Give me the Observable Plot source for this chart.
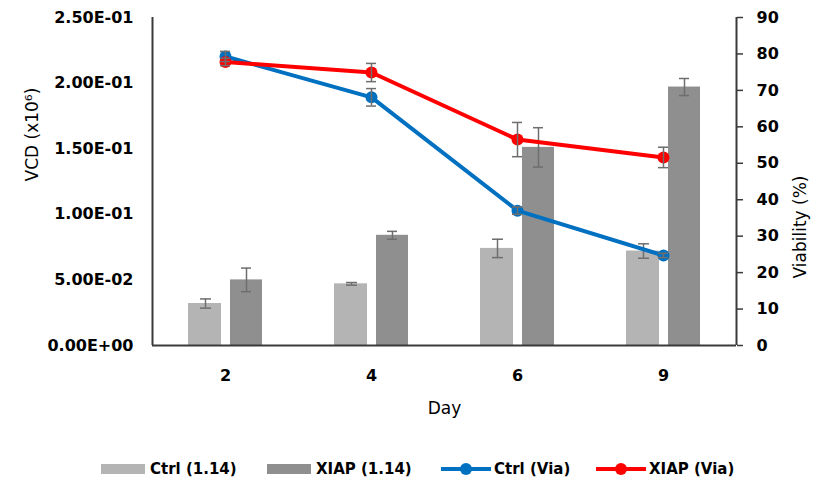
<!DOCTYPE html>
<html>
<head>
<meta charset="utf-8">
<script src="https://cdn.jsdelivr.net/npm/d3@7"></script>
<script src="https://cdn.jsdelivr.net/npm/@observablehq/plot@0.6"></script>
<style>
  html, body { margin: 0; padding: 0; background: #fff; }
  #chart { width: 820px; }
  .legend { position: relative; height: 36px; font-family: "DejaVu Sans", sans-serif; font-weight: bold; font-size: 15px; color: #000; }
  .legend .item { position: absolute; top: 10px; display: flex; align-items: center; height: 18px; }
  .legend .sw { width: 44px; height: 10px; margin-right: 5px; }
  .legend .ln { position: relative; width: 50px; height: 4px; margin-right: 3px; }
  .legend .ln i { position: absolute; left: 19px; top: -4px; width: 12px; height: 12px; border-radius: 50%; }
</style>
</head>
<body>
<div id="chart"></div>
<script>
const days = ["2", "4", "6", "9"];
const ctrlVCD = [0.032, 0.047, 0.074, 0.072];
const ctrlVCDErr = [0.0035, 0.001, 0.007, 0.0055];
const xiapVCD = [0.050, 0.084, 0.151, 0.197];
const xiapVCDErr = [0.009, 0.003, 0.015, 0.0065];
const ctrlVia = [79.3, 68.1, 37.0, 24.7];
const ctrlViaErr = [1.4, 2.4, 1.0, 0.6];
const xiapVia = [77.8, 74.9, 56.5, 51.6];
const xiapViaErr = [1.0, 2.5, 4.7, 2.8];
const vcdTicks = [0, 0.05, 0.10, 0.15, 0.20, 0.25];
const viaTicks = [0, 10, 20, 30, 40, 50, 60, 70, 80, 90];
const seriesNames = ["Ctrl (1.14)", "XIAP (1.14)", "Ctrl (Via)", "XIAP (Via)"];
const seriesColors = ["#b4b4b4", "#8f8f8f", "#0070c0", "#ff0000"];

const VIA_MAX = 90, VCD_MAX = 0.25;
const viaToY = v => v * VCD_MAX / VIA_MAX;

const rows = (vals, errs) => days.map((d, i) => ({day: d, v: vals[i], e: errs[i]}));
const ctrlBars = rows(ctrlVCD, ctrlVCDErr);
const xiapBars = rows(xiapVCD, xiapVCDErr);
const ctrlLine = rows(ctrlVia, ctrlViaErr).map(r => ({...r, y: viaToY(r.v), lo: viaToY(r.v - r.e), hi: viaToY(r.v + r.e)}));
const xiapLine = rows(xiapVia, xiapViaErr).map(r => ({...r, y: viaToY(r.v), lo: viaToY(r.v - r.e), hi: viaToY(r.v + r.e)}));

function sci(d) {
  const [m, e] = d.toExponential(2).split("e");
  const sign = e[0] === "-" ? "-" : "+";
  const n = String(Math.abs(+e)).padStart(2, "0");
  return `${m}E${sign}${n}`;
}

const errStroke = "#6e6e6e";
const axisColor = "#3a3a3a";

const errBars = (data, dx, capL, capR) => [
  Plot.ruleX(data, {x: "day", y1: d => d.v - d.e, y2: d => d.v + d.e, dx, stroke: errStroke, strokeWidth: 1.5}),
  Plot.tickY(data, {x: "day", y: d => d.v - d.e, insetLeft: capL, insetRight: capR, stroke: errStroke, strokeWidth: 1.5}),
  Plot.tickY(data, {x: "day", y: d => d.v + d.e, insetLeft: capL, insetRight: capR, stroke: errStroke, strokeWidth: 1.5})
];
const lineErr = (data) => [
  Plot.ruleX(data, {x: "day", y1: "lo", y2: "hi", stroke: errStroke, strokeWidth: 1.5}),
  Plot.tickY(data, {x: "day", y: "lo", insetLeft: 68, insetRight: 68, stroke: errStroke, strokeWidth: 1.5}),
  Plot.tickY(data, {x: "day", y: "hi", insetLeft: 68, insetRight: 68, stroke: errStroke, strokeWidth: 1.5})
];

const plot = Plot.plot({
  width: 820,
  height: 450,
  marginLeft: 152,
  marginRight: 84,
  marginTop: 17,
  marginBottom: 105,
  style: {fontFamily: "DejaVu Sans, sans-serif", fontSize: "16px", color: "#000", background: "#fff"},
  x: {type: "band", domain: days, padding: 0},
  y: {domain: [0, VCD_MAX]},
  marks: [
    Plot.barY(ctrlBars, {x: "day", y: "v", fill: seriesColors[0], insetLeft: 36, insetRight: 77}),
    Plot.barY(xiapBars, {x: "day", y: "v", fill: seriesColors[1], insetLeft: 78, insetRight: 36}),
    ...errBars(ctrlBars, -20, 48, 87),
    ...errBars(xiapBars, 21, 89, 47),
    Plot.line(ctrlLine, {x: "day", y: "y", stroke: seriesColors[2], strokeWidth: 4}),
    Plot.line(xiapLine, {x: "day", y: "y", stroke: seriesColors[3], strokeWidth: 4}),
    Plot.dot(ctrlLine, {x: "day", y: "y", fill: seriesColors[2], r: 6}),
    Plot.dot(xiapLine, {x: "day", y: "y", fill: seriesColors[3], r: 6}),
    ...lineErr(ctrlLine),
    ...lineErr(xiapLine),
    Plot.ruleY([0], {stroke: axisColor, strokeWidth: 2}),
    Plot.ruleX([days[0]], {dx: -73, stroke: axisColor, strokeWidth: 2}),
    Plot.ruleX([days[days.length - 1]], {dx: 73, stroke: axisColor, strokeWidth: 2}),
    Plot.axisY(vcdTicks, {anchor: "left", tickSize: 0, tickPadding: 19, tickFormat: sci, fontWeight: "bold", fontSize: 16, label: null}),
    Plot.axisY(viaTicks.map(viaToY), {anchor: "right", tickSize: 6, tickPadding: 14, stroke: axisColor, strokeWidth: 1.5, tickFormat: d => String(Math.round(d * VIA_MAX / VCD_MAX)), fontWeight: "bold", fontSize: 16, label: null}),
    Plot.axisX({anchor: "bottom", tickSize: 0, tickPadding: 24, fontWeight: "bold", fontSize: 16, label: null}),
    Plot.text(["VCD (x10⁶)"], {frameAnchor: "left", dx: -120, rotate: -90, fontSize: 17}),
    Plot.text(["Viability (%)"], {frameAnchor: "right", dx: 64, dy: -6, rotate: -90, fontSize: 17}),
    Plot.text(["Day"], {frameAnchor: "bottom", dy: 68, fontSize: 17})
  ]
});
document.getElementById("chart").appendChild(plot);

// legend
const legend = document.createElement("div");
legend.className = "legend";
const positions = [101, 267, 441, 596];
seriesNames.forEach((name, i) => {
  const item = document.createElement("div");
  item.className = "item";
  item.style.left = positions[i] + "px";
  if (i < 2) {
    const sw = document.createElement("span");
    sw.className = "sw";
    sw.style.background = seriesColors[i];
    item.appendChild(sw);
  } else {
    const ln = document.createElement("span");
    ln.className = "ln";
    ln.style.background = seriesColors[i];
    const dot = document.createElement("i");
    dot.style.background = seriesColors[i];
    ln.appendChild(dot);
    item.appendChild(ln);
  }
  const t = document.createElement("span");
  t.textContent = name;
  item.appendChild(t);
  legend.appendChild(item);
});
document.getElementById("chart").appendChild(legend);
</script>
</body>
</html>
